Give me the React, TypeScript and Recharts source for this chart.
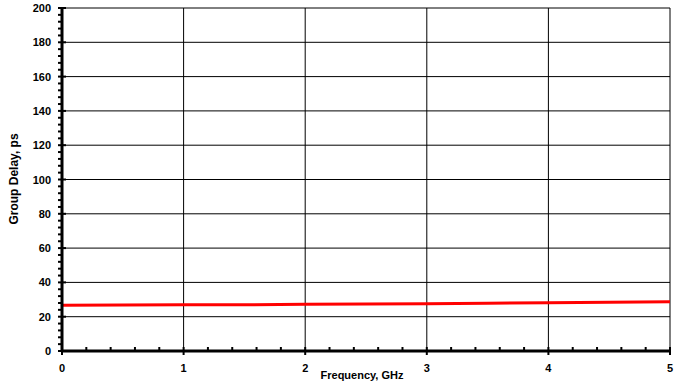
import { LineChart, Line, XAxis, YAxis, CartesianGrid } from 'recharts';

// ─── Data ────────────────────────────────────────────────────────────────────
const freqGHz = [0, 0.5, 1, 1.5, 2, 2.5, 3, 3.5, 4, 4.5, 5];
const groupDelayPs = [26.7, 26.8, 26.9, 27.0, 27.2, 27.4, 27.6, 27.9, 28.1, 28.4, 28.7];

const yTicks = Array.from({ length: 51 }, (_, i) => i * 4);
const xTicks = Array.from({ length: 26 }, (_, i) => Math.round(i * 2) / 10);
const yGrid = [0, 20, 40, 60, 80, 100, 120, 140, 160, 180, 200];
const xGrid = [0, 1, 2, 3, 4, 5];

const data = freqGHz.map((f, i) => ({ f, d: groupDelayPs[i] }));

const FONT = '"Liberation Sans", Arial, sans-serif';
const txt = { fill: '#000', fontFamily: FONT, fontWeight: 700 } as const;

// ─── Custom ticks ────────────────────────────────────────────────────────────
const YTick = ({ x, y, payload }: any) => {
  const v = payload.value as number;
  const major = v % 20 === 0;
  return (
    <g>
      <line x1={x - 4} x2={major ? x + 4 : x} y1={y} y2={y} stroke="#000" strokeWidth={2} />
      {major && (
        <text x={x - 11} y={y} dy={4} textAnchor="end" fontSize={11} style={txt}>
          {v}
        </text>
      )}
    </g>
  );
};

const XTick = ({ x, y, payload }: any) => {
  const v = payload.value as number;
  const major = Math.abs(v - Math.round(v)) < 1e-6;
  return (
    <g>
      <line x1={x} x2={x} y1={y - 4} y2={major ? y + 4 : y} stroke="#000" strokeWidth={2} />
      {major && (
        <text x={x} y={y} dy={21} textAnchor="middle" fontSize={11} style={txt}>
          {Math.round(v)}
        </text>
      )}
    </g>
  );
};

const YLabel = () => (
  <text x={18} y={179} transform="rotate(-90 18 179)" textAnchor="middle" fontSize={12} style={txt}>
    Group Delay, ps
  </text>
);

const XLabel = () => (
  <text x={362} y={379} textAnchor="middle" fontSize={11} style={txt}>
    Frequency, GHz
  </text>
);

export default function App() {
  return (
    <div style={{ position: 'absolute', left: 0, top: 0, width: 684, height: 386, background: '#fff' }}>
      <LineChart width={684} height={386} data={data} margin={{ top: 8, right: 14, left: 0, bottom: 0 }}>
        <CartesianGrid stroke="#000" strokeWidth={1} horizontalValues={yGrid} verticalValues={xGrid} />
        <XAxis
          dataKey="f"
          type="number"
          domain={[0, 5]}
          ticks={xTicks}
          interval={0}
          height={35}
          tickSize={0}
          tickMargin={0}
          tickLine={false}
          axisLine={{ stroke: '#000', strokeWidth: 3 }}
          tick={<XTick />}
          label={<XLabel />}
        />
        <YAxis
          type="number"
          domain={[0, 200]}
          ticks={yTicks}
          interval={0}
          width={62}
          tickSize={0}
          tickMargin={0}
          tickLine={false}
          axisLine={{ stroke: '#000', strokeWidth: 3 }}
          tick={<YTick />}
          label={<YLabel />}
        />
        <Line dataKey="d" stroke="#ff0000" strokeWidth={3} dot={false} isAnimationActive={false} />
      </LineChart>
    </div>
  );
}
